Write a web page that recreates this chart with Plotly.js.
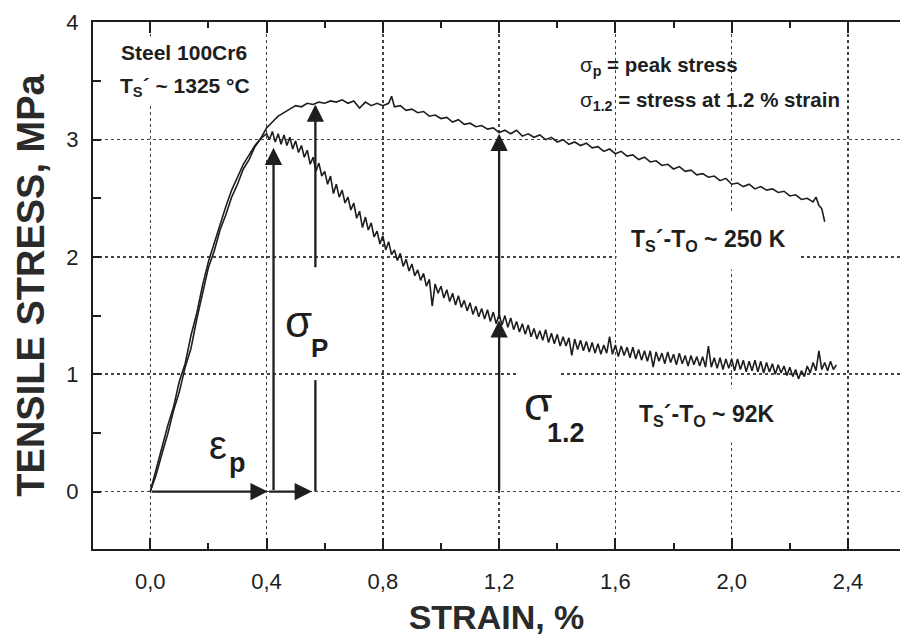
<!DOCTYPE html>
<html>
<head>
<meta charset="utf-8">
<script src="https://cdn.plot.ly/plotly-3.0.1.min.js"></script>
<style>html,body{margin:0;padding:0;background:#fff;} #chart{width:900px;height:638px;}</style>
</head>
<body>
<div id="chart"></div>
<script>
// Tick labels
const xTickVals = [0, 0.4, 0.8, 1.2, 1.6, 2.0, 2.4];
const xTickText = ['0,0', '0,4', '0,8', '1,2', '1,6', '2,0', '2,4'];
const yTickVals = [0, 1, 2, 3, 4];
const yTickText = ['0', '1', '2', '3', '4'];

// Curve: Ts'-To ~ 250 K (strain %, stress MPa)
const strain250 = [0,0.02,0.04,0.06,0.08,0.10,0.12,0.14,0.16,0.18,0.20,0.22,0.24,0.26,0.28,0.30,0.32,0.34,0.36,0.38,
  0.40,0.42,0.44,0.46,0.48,0.50,0.52,0.54,0.56,0.58,0.60,0.62,0.64,0.66,0.68,0.70,0.72,0.74,0.76,0.78,
  0.80,0.82,0.83,0.84,0.86,0.88,0.90,0.92,0.94,0.96,0.98,1.00,1.02,1.04,1.06,1.08,1.10,1.12,1.14,1.16,1.18,
  1.20,1.22,1.24,1.26,1.28,1.30,1.32,1.34,1.36,1.38,1.40,1.42,1.44,1.46,1.48,1.50,1.52,1.54,1.56,1.58,
  1.60,1.62,1.64,1.66,1.68,1.70,1.72,1.74,1.76,1.78,1.80,1.82,1.84,1.86,1.88,1.90,1.92,1.94,1.96,1.98,
  2.00,2.02,2.04,2.06,2.08,2.10,2.12,2.14,2.16,2.18,2.20,2.22,2.24,2.26,2.28,2.29,2.30,2.31,2.32];
const stress250 = [0,0.14,0.32,0.49,0.69,0.85,1.06,1.22,1.47,1.68,1.91,2.05,2.23,2.36,2.51,2.62,2.75,2.83,2.94,3.01,
  3.10,3.15,3.20,3.23,3.26,3.29,3.28,3.31,3.30,3.32,3.31,3.33,3.32,3.34,3.31,3.33,3.27,3.32,3.29,3.31,
  3.29,3.31,3.37,3.28,3.29,3.25,3.26,3.23,3.24,3.20,3.21,3.18,3.19,3.15,3.17,3.13,3.14,3.11,3.12,3.09,3.10,
  3.06,3.08,3.05,3.08,3.03,3.05,3.02,3.04,3.00,3.02,2.98,3.00,2.96,2.98,2.95,2.97,2.93,2.94,2.90,2.92,
  2.88,2.90,2.86,2.87,2.83,2.85,2.81,2.82,2.78,2.79,2.75,2.77,2.73,2.74,2.70,2.71,2.68,2.69,2.65,2.67,
  2.62,2.63,2.60,2.62,2.58,2.60,2.57,2.58,2.55,2.56,2.52,2.53,2.49,2.50,2.47,2.51,2.44,2.41,2.30];

// Curve: Ts'-To ~ 92 K
const strain92 = [0,0.02,0.04,0.06,0.08,0.10,0.12,0.14,0.16,0.18,0.20,0.22,0.24,0.26,0.28,0.30,0.32,0.34,0.36,0.38,
  0.40,0.41,0.42,0.43,0.44,0.45,0.46,0.47,0.48,0.49,0.50,0.51,0.52,0.53,0.54,0.55,0.56,0.57,0.58,0.59,
  0.60,0.61,0.62,0.63,0.64,0.65,0.66,0.67,0.68,0.69,0.70,0.71,0.72,0.73,0.74,0.75,0.76,0.77,0.78,0.79,
  0.80,0.81,0.82,0.83,0.84,0.85,0.86,0.87,0.88,0.89,0.90,0.91,0.92,0.93,0.94,0.95,0.96,0.97,0.98,0.99,
  1.00,1.01,1.02,1.03,1.04,1.05,1.06,1.07,1.08,1.09,1.10,1.11,1.12,1.13,1.14,1.15,1.16,1.17,1.18,1.19,
  1.20,1.21,1.22,1.23,1.24,1.25,1.26,1.27,1.28,1.29,1.30,1.31,1.32,1.33,1.34,1.35,1.36,1.37,1.38,1.39,
  1.40,1.41,1.42,1.43,1.44,1.45,1.46,1.47,1.48,1.49,1.50,1.51,1.52,1.53,1.54,1.55,1.56,1.57,1.58,1.59,
  1.60,1.61,1.62,1.63,1.64,1.65,1.66,1.67,1.68,1.69,1.70,1.71,1.72,1.73,1.74,1.75,1.76,1.77,1.78,1.79,
  1.80,1.81,1.82,1.83,1.84,1.85,1.86,1.87,1.88,1.89,1.90,1.91,1.92,1.93,1.94,1.95,1.96,1.97,1.98,1.99,
  2.00,2.01,2.02,2.03,2.04,2.05,2.06,2.07,2.08,2.09,2.10,2.11,2.12,2.13,2.14,2.15,2.16,2.17,2.18,2.19,
  2.20,2.21,2.22,2.23,2.24,2.25,2.26,2.27,2.28,2.29,2.30,2.31,2.32,2.33,2.34,2.35,2.36];
const stress92 = [0,0.19,0.36,0.56,0.72,0.94,1.09,1.33,1.52,1.76,1.96,2.12,2.28,2.43,2.57,2.68,2.79,2.87,2.95,3.01,
  3.05,3.00,3.07,2.98,3.05,2.96,3.04,2.95,3.02,2.92,
  2.99,2.89,2.95,2.85,2.91,2.79,2.85,2.73,2.80,2.69,
  2.73,2.62,2.69,2.54,2.62,2.51,2.57,2.46,2.51,2.40,
  2.46,2.33,2.39,2.25,2.34,2.23,2.29,2.17,2.22,2.11,
  2.18,2.06,2.13,2.02,2.06,1.97,2.03,1.92,1.98,1.88,
  1.94,1.84,1.89,1.80,1.86,1.75,1.81,1.58,1.77,1.69,
  1.75,1.65,1.72,1.62,1.69,1.59,1.67,1.57,1.63,1.54,
  1.61,1.51,1.58,1.49,1.56,1.47,1.55,1.45,1.53,1.43,
  1.51,1.42,1.50,1.40,1.48,1.38,1.45,1.36,1.43,1.34,
  1.42,1.32,1.39,1.30,1.37,1.29,1.38,1.27,1.35,1.26,
  1.34,1.24,1.32,1.24,1.31,1.16,1.30,1.21,1.29,1.20,
  1.28,1.19,1.27,1.18,1.26,1.17,1.25,1.18,1.32,1.17,
  1.25,1.15,1.24,1.16,1.23,1.14,1.23,1.13,1.21,1.12,
  1.20,1.11,1.20,1.06,1.19,1.11,1.18,1.09,1.19,1.10,
  1.17,1.08,1.18,1.09,1.16,1.07,1.16,1.08,1.15,1.07,
  1.15,1.06,1.24,1.06,1.14,1.05,1.14,1.04,1.13,1.05,
  1.13,1.03,1.13,1.04,1.12,1.02,1.11,1.03,1.12,1.02,
  1.11,1.01,1.10,1.02,1.09,1.00,1.08,1.01,1.07,0.99,
  1.06,0.98,1.04,0.96,1.03,0.98,1.07,1.01,1.10,1.03,
  1.20,1.04,1.10,1.03,1.11,1.04,1.08];

// Characteristic values marked by arrows
const epsP = 0.424;      // strain at peak (92 K curve)
const sigP92 = 2.93;
const epsP250 = 0.568;   // strain at peak (250 K curve)
const sigP250 = 3.30;
const eps12 = 1.2;
const sig12_92 = 1.46;
const sig12_250 = 3.05;

const ink = '#1e1e1e';
const FONT = 'Liberation Sans, Arial, sans-serif';

const traces = [
  {x: strain250, y: stress250, type: 'scatter', mode: 'lines', line: {color: ink, width: 1.6}, hoverinfo: 'skip'},
  {x: strain92, y: stress92, type: 'scatter', mode: 'lines', line: {color: ink, width: 1.6}, hoverinfo: 'skip'}
];

function arrow(x, y, ax, ay) {
  return {x: x, y: y, ax: ax, ay: ay, xref: 'x', yref: 'y', axref: 'x', ayref: 'y',
    text: '', showarrow: true, arrowhead: 2, arrowsize: 1.5, arrowwidth: 2.3, arrowcolor: ink, standoff: 0, startstandoff: 0};
}
function label(text, x, y, size, opts) {
  return Object.assign({x: x, y: y, xref: 'x', yref: 'y', text: text, showarrow: false,
    font: {family: FONT, size: size, color: ink}, xanchor: 'left', yanchor: 'middle'}, opts || {});
}

const annotations = [
  label('<b>Steel 100Cr6</b>', -0.118, 3.745, 21, {bgcolor: '#fff', borderpad: 4}),
  label('<b>T<sub>S</sub>´ ~ 1325 °C</b>', -0.122, 3.45, 21, {bgcolor: '#fff', borderpad: 4}),
  label('σ<sub><b>p</b></sub><b> = peak stress</b>', 1.472, 3.63, 20.5),
  label('σ<sub><b>1.2</b></sub><b> = stress at 1.2 % strain</b>', 1.472, 3.33, 20.5),
  label('<b>T<sub>S</sub>´-T<sub>O</sub> ~ 250 K</b>', 1.92, 2.14, 23, {xanchor: 'center', bgcolor: '#fff', borderpad: 14}),
  label('<b>T<sub>S</sub>´-T<sub>O</sub> ~ 92K</b>', 1.915, 0.65, 23, {xanchor: 'center', bgcolor: '#fff', borderpad: 12}),
  label('ε', 0.232, 0.40, 40, {xanchor: 'center'}),
  label('<b>p</b>', 0.30, 0.24, 27, {xanchor: 'center'}),
  label('σ', 0.51, 1.45, 44, {xanchor: 'center', bgcolor: '#fff', borderpad: 2}),
  label('<b>P</b>', 0.582, 1.22, 26, {xanchor: 'center', bgcolor: '#fff', borderpad: 4}),
  label('σ', 1.335, 0.75, 46, {xanchor: 'center', bgcolor: '#fff', borderpad: 6}),
  label('<b>1.2</b>', 1.43, 0.50, 27, {xanchor: 'center', bgcolor: '#fff', borderpad: 6}),
  arrow(epsP - 0.02, 0, 0, 0),
  arrow(epsP250 - 0.012, 0, epsP - 0.02, 0),
  arrow(epsP, sigP92, epsP, 0),
  arrow(epsP250, sigP250, epsP250, 1.90),
  arrow(eps12, sig12_92, eps12, 0),
  arrow(eps12, sig12_250, eps12, sig12_92)
];

const shapes = [
  {type: 'line', xref: 'x', yref: 'y', x0: epsP250, x1: epsP250, y0: 0, y1: 0.95, line: {color: ink, width: 2.3}, layer: 'above'}
];

const axisFont = {family: FONT, size: 22, color: ink};

const layout = {
  width: 900, height: 638,
  margin: {l: 93, r: 0, t: 22, b: 89},
  paper_bgcolor: '#fff', plot_bgcolor: '#fff',
  showlegend: false,
  xaxis: {
    range: [-0.197, 2.579],
    tickvals: xTickVals, ticktext: xTickText,
    ticks: 'inside', ticklen: 11, tickwidth: 2, tickcolor: ink,
    minor: {dtick: 0.2, tick0: 0, ticks: 'inside', ticklen: 6, tickwidth: 2, tickcolor: ink, showgrid: false},
    showline: true, linecolor: ink, linewidth: 2, mirror: 'ticks',
    showgrid: true, gridcolor: '#444', griddash: 'dot', gridwidth: 1.5,
    zeroline: false,
    tickfont: axisFont, ticklabelstandoff: 12,
    title: {text: '<b>STRAIN, %</b>', font: {family: FONT, size: 34, color: '#2a2a2a'}, standoff: 12}
  },
  yaxis: {
    range: [-0.49, 4.003],
    tickvals: yTickVals, ticktext: yTickText,
    ticks: 'inside', ticklen: 8, tickwidth: 2, tickcolor: ink,
    minor: {dtick: 0.5, tick0: 0, ticks: 'inside', ticklen: 8, tickwidth: 2, tickcolor: ink, showgrid: false},
    showline: true, linecolor: ink, linewidth: 2, mirror: false,
    showgrid: true, gridcolor: '#444', griddash: 'dot', gridwidth: 1.5,
    zeroline: false,
    tickfont: axisFont, ticklabelstandoff: 8,
    title: {text: '<b>TENSILE STRESS, MPa</b>', font: {family: FONT, size: 38, color: '#2a2a2a'}, standoff: 10}
  },
  annotations: annotations,
  shapes: shapes
};

Plotly.newPlot('chart', traces, layout, {staticPlot: true, displayModeBar: false});
</script>
</body>
</html>
